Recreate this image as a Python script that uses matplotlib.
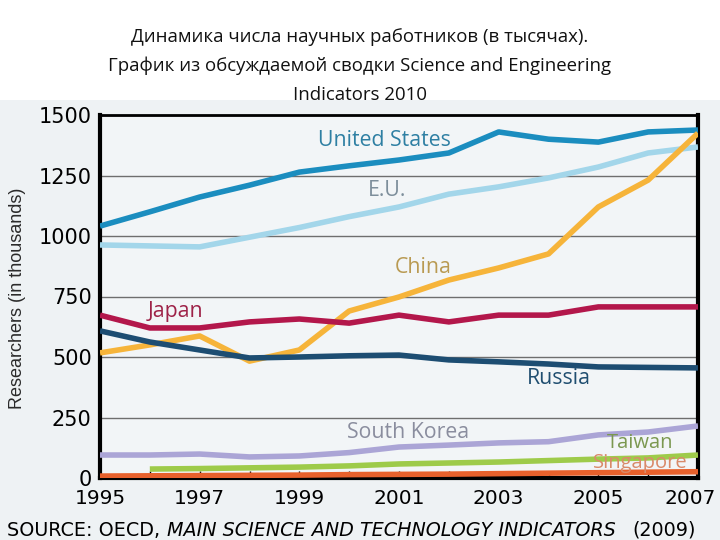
import numpy as np
import matplotlib
matplotlib.use('Agg')
import matplotlib.pyplot as plt
from matplotlib.patches import Rectangle
from matplotlib.transforms import ScaledTranslation

years = list(range(1995, 2008))

us = [1041, 1100, 1161, 1210, 1264, 1290, 1314, 1343, 1430, 1400, 1388, 1430, 1438]
eu = [963, 959, 955, 995, 1035, 1080, 1120, 1173, 1203, 1240, 1285, 1343, 1368]
china = [517, 550, 587, 483, 529, 690, 748, 818, 868, 926, 1120, 1231, 1425]
japan = [673, 620, 620, 645, 657, 640, 673, 645, 673, 673, 707, 707, 707]
russia = [608, 562, 529, 496, 500, 505, 508, 488, 480, 471, 459, 457, 455]
korea = [95, 95, 99, 87, 91, 105, 128, 136, 145, 150, 178, 190, 215]
taiwan_years = list(range(1996, 2008))
taiwan = [37, 39, 42, 45, 50, 58, 62, 66, 72, 78, 83, 95]
singapore = [8, 9, 10, 11, 12, 14, 15, 16, 18, 20, 22, 24, 26]

# name, x, y, line colour, label colour, label position (px), label size
series = [
    ('United States', years, us, '#1b8dbf', '#2e7fa3', 318, 140, 15.3),
    ('E.U.', years, eu, '#a3d6ea', '#7d8e9b', 368, 191, 15.3),
    ('China', years, china, '#f6b43a', '#b99a52', 395, 268, 15.3),
    ('Japan', years, japan, '#b3174b', '#9e2248', 148, 312, 15.3),
    ('Russia', years, russia, '#1d4d72', '#204e70', 527, 379, 15.3),
    ('South Korea', years, korea, '#aba5d6', '#8a8d9e', 347, 433, 15.3),
    ('Taiwan', taiwan_years, taiwan, '#9ecb4a', '#7b9850', 607, 443, 14.5),
    ('Singapore', years, singapore, '#e8612c', '#d98a6a', 593, 463, 14.5),
]

fig = plt.figure(figsize=(7.2, 5.4), dpi=100)
fig.patch.set_facecolor('white')
fig.patches.append(Rectangle((0, 0), 1, 440 / 540, transform=fig.transFigure,
                             facecolor='#eef2f4', edgecolor='none', zorder=-10))

fig.text(0.5, 1 - 66 / 540,
         'Динамика числа научных работников (в тысячах).\n'
         'График из обсуждаемой сводки Science and Engineering\n'
         'Indicators 2010',
         ha='center', va='center', fontsize=13.4, family='Open Sans',
         linespacing=1.72, color='#111111')

ax = fig.add_axes([100 / 720, 62 / 540, 598 / 720, 363 / 540])
ax.set_facecolor('#f2f5f7')

for name, xs, ys, c, tc, tx, ty, fs in series:
    ax.plot(xs, ys, color=c, lw=4, solid_capstyle='butt', zorder=3)
    fig.text(tx / 720, 1 - ty / 540, name, color=tc, fontsize=fs,
             family='Open Sans', ha='left', va='center', zorder=5)

ax.set_xlim(1995, 2007)
ax.set_ylim(0, 1500)
ax.set_yticks(np.arange(0, 1501, 250))
ax.set_xticks(years)
ax.set_xticklabels([str(y) if y % 2 == 1 else '' for y in years])
ax.yaxis.grid(True, color='#6e6e6e', lw=1)
ax.set_axisbelow(True)
ax.tick_params(axis='y', length=0, labelsize=15, pad=6)
ax.tick_params(axis='x', direction='in', length=5, width=1, labelsize=14.5, pad=8)
for lab in ax.get_xticklabels() + ax.get_yticklabels():
    lab.set_family('DejaVu Sans')
last = ax.get_xticklabels()[-1]
last.set_transform(last.get_transform() + ScaledTranslation(-8 / 100, 0, fig.dpi_scale_trans))
for side in ['left', 'right', 'bottom']:
    ax.spines[side].set_linewidth(3)
ax.spines['top'].set_linewidth(2)

fig.text(18 / 720, 1 - 298 / 540, 'Researchers (in thousands)', rotation=90,
         ha='center', va='center', fontsize=13,
         family='Liberation Sans', color='#2a2a2a')

fig.text(7 / 720, 1 - 530 / 540, 'SOURCE: OECD,', fontsize=13.8,
         family='DejaVu Sans', va='center', ha='left')
fig.text(167 / 720, 1 - 530 / 540, 'MAIN SCIENCE AND TECHNOLOGY INDICATORS',
         fontsize=13.8, style='italic', family='DejaVu Sans', va='center', ha='left')
fig.text(696 / 720, 1 - 530 / 540, '(2009)', fontsize=13.8,
         family='DejaVu Sans', va='center', ha='right')

fig.savefig('out.png', dpi=100)
